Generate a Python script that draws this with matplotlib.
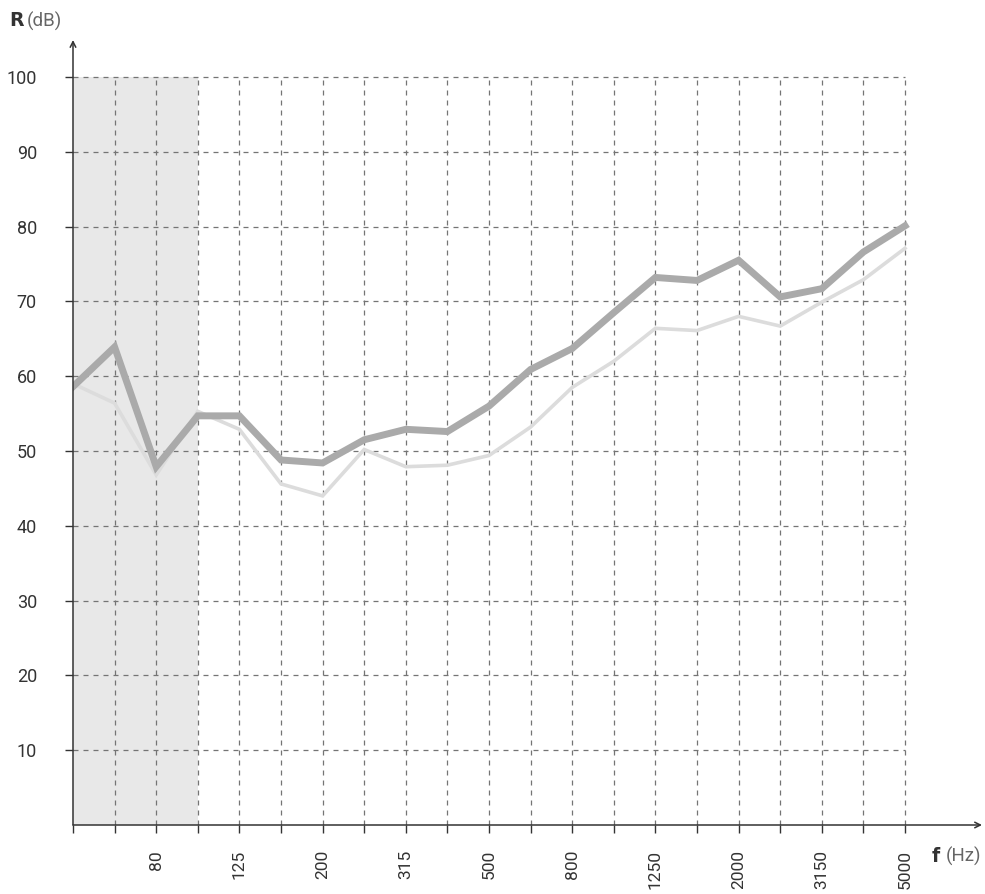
import matplotlib
matplotlib.use("Agg")
import matplotlib.pyplot as plt
import numpy as np

plt.rcParams['font.family'] = ['Roboto', 'DejaVu Sans']

# third-octave bands, Hz
bands = ['50', '63', '80', '100', '125', '160', '200', '250', '315', '400', '500',
         '630', '800', '1000', '1250', '1600', '2000', '2500', '3150', '4000', '5000']
shown_labels = ['80', '125', '200', '315', '500', '800', '1250', '2000', '3150', '5000']

# sound reduction index R, dB
r_main = [58.6, 63.9, 47.9, 54.7, 54.7, 48.8, 48.4, 51.5, 52.9, 52.6, 56.0,
          60.9, 63.7, 68.5, 73.2, 72.8, 75.5, 70.6, 71.7, 76.6, 80.1]
r_ref = [59.0, 56.4, 46.8, 55.3, 52.9, 45.6, 44.0, 50.2, 47.9, 48.1, 49.4,
         53.2, 58.5, 62.0, 66.4, 66.1, 68.0, 66.7, 69.9, 72.9, 77.1]
y_grid = [10, 20, 30, 40, 50, 60, 70, 80, 90, 100]

W, H = 985, 894
fig = plt.figure(figsize=(W / 100, H / 100), dpi=100)

# axes box in pixels: x 0 -> 73px, 20 -> 905px ; y 0 -> 825px, 100 -> 77px
px_x = 41.6
px_y = 7.48
left, right, bottom, top = 73, 982, 825, 40
ax = fig.add_axes([left / W, 1 - bottom / H, (right - left) / W, (bottom - top) / H])
ax.set_xlim(0, (right - left) / px_x)
ax.set_ylim(0, (bottom - top) / px_y)
for s in ax.spines.values():
    s.set_visible(False)

x = np.arange(len(bands))
n = len(bands) - 1

# low-frequency band shading
ax.fill_between([0, 3], 0, 100, color='#e8e8e8', lw=0, zorder=0)

# dashed grid
grid_kw = dict(color='#747474', lw=0.9, dashes=(4, 4), zorder=1)
for yv in y_grid:
    ax.plot([0, n], [yv, yv], **grid_kw)
for xv in x[1:]:
    ax.plot([xv, xv], [0, 100], **grid_kw)

# curves
ax.plot(x, r_ref, color='#dcdcdc', lw=2.6, zorder=3, solid_joinstyle='miter')
ax.plot(x, r_main, color='#aaaaaa', lw=5, zorder=4, solid_joinstyle='miter')

# axes with arrows
ax.annotate('', xy=(ax.get_xlim()[1], 0), xytext=(0, 0),
            arrowprops=dict(arrowstyle='->', color='#333333', lw=1.1,
                            shrinkA=0, shrinkB=0, mutation_scale=10), zorder=5)
ax.annotate('', xy=(0, ax.get_ylim()[1]), xytext=(0, 0),
            arrowprops=dict(arrowstyle='->', color='#333333', lw=1.1,
                            shrinkA=0, shrinkB=0, mutation_scale=10), zorder=5)

# ticks
ax.set_xticks(x)
ax.set_xticklabels([b if b in shown_labels else '' for b in bands],
                   rotation=90, fontsize=12.5, color='#333333')
ax.set_yticks(y_grid)
ax.set_yticklabels([str(v) for v in y_grid], fontsize=13, color='#333333')
ax.tick_params(axis='x', direction='out', length=6, width=1, color='#333333', pad=12)
ax.tick_params(axis='y', direction='out', length=6, width=1, color='#333333', pad=20)

# axis titles
fig.text(9 / W, 1 - 21 / H, r'$\mathbf{R}$', fontsize=13.5, color='#333333', va='center')
fig.text(27 / W, 1 - 21 / H, '(dB)', fontsize=13.5, color='#666666', va='center')
fig.text(931 / W, 1 - 856 / H, r'$\mathbf{f}$', fontsize=13.5, color='#333333', va='center')
fig.text(946 / W, 1 - 856 / H, '(Hz)', fontsize=13.5, color='#666666', va='center')

fig.savefig('out.png', dpi=100)
